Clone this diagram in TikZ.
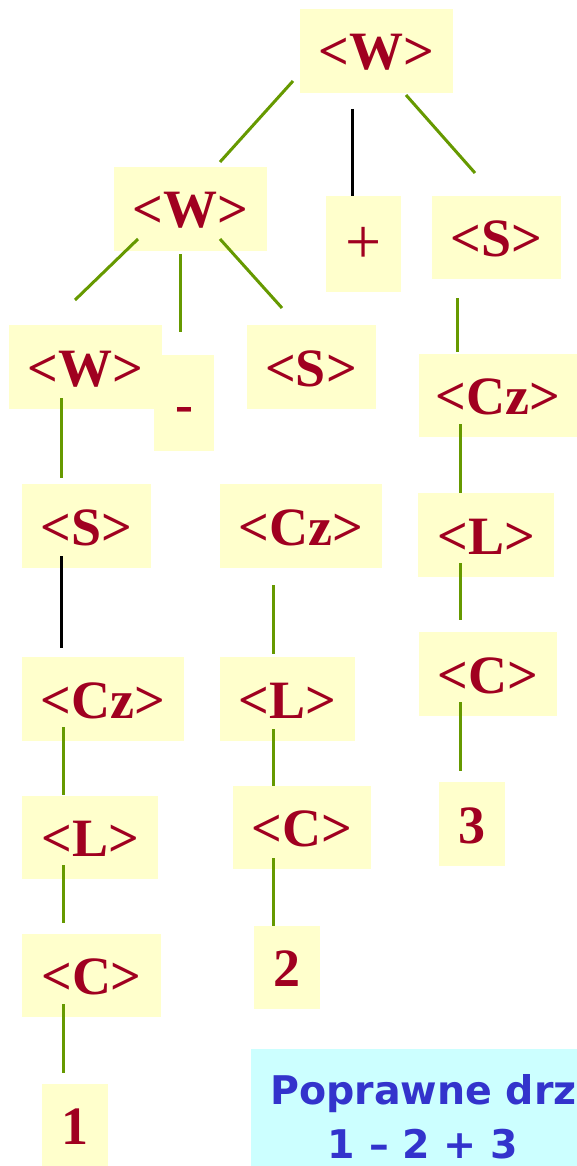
\documentclass[tikz,border=0pt]{standalone}
\usepackage{fontspec}
\setmainfont{Liberation Serif}
\newfontfamily\napisfont{DejaVu Sans}
\usepackage{xcolor}
\usetikzlibrary{positioning}

\definecolor{tlo}{RGB}{255,255,204}
\definecolor{czerw}{RGB}{160,0,32}
\definecolor{ziel}{RGB}{102,153,0}
\definecolor{tlonapis}{RGB}{204,255,255}
\definecolor{nieb}{RGB}{51,51,204}

\begin{document}
\begin{tikzpicture}[x=1pt,y=-1pt,
	wezel/.style={fill=tlo,text=czerw,inner sep=0pt,text height=38pt,text depth=0pt,
		font=\fontsize{54}{58}\selectfont\bfseries},
	galaz/.style={draw=ziel,line width=3pt},
	czarna/.style={draw=black,line width=3pt}]
	\useasboundingbox (0,0) rectangle (577,1166);
	
	% Węzły drzewa
	\node[wezel,minimum width=153pt,minimum height=84pt] (w0) at (376.5,51) {<W>};
	\node[wezel,minimum width=153pt,minimum height=84pt] (w1) at (190.5,209) {<W>};
	\node[wezel,minimum width=75pt,minimum height=96pt,font=\fontsize{64}{68}\selectfont] (plus) at (363.5,244) {+};
	\node[wezel,minimum width=129pt,minimum height=83pt] (s0) at (496.5,237.5) {<S>};
	\node[wezel,minimum width=60pt,minimum height=96pt] (minus) at (184,403) {-};
	\node[wezel,minimum width=153pt,minimum height=84pt] (w2) at (85,367) {<W>};
	\node[wezel,minimum width=129pt,minimum height=84pt] (s1) at (311,367) {<S>};
	\node[wezel,minimum width=158pt,minimum height=83pt] (cz0) at (498,395.5) {<Cz>};
	\node[wezel,minimum width=129pt,minimum height=84pt] (s2) at (86.5,526) {<S>};
	\node[wezel,minimum width=162pt,minimum height=84pt] (cz1) at (301,526) {<Cz>};
	\node[wezel,minimum width=136pt,minimum height=84pt] (l0) at (486,535) {<L>};
	\node[wezel,minimum width=162pt,minimum height=84pt] (cz2) at (103,699) {<Cz>};
	\node[wezel,minimum width=135pt,minimum height=84pt] (l1) at (287.5,699) {<L>};
	\node[wezel,minimum width=138pt,minimum height=84pt] (c0) at (488,674) {<C>};
	\node[wezel,minimum width=136pt,minimum height=83pt] (l2) at (90,837.5) {<L>};
	\node[wezel,minimum width=138pt,minimum height=83pt] (c1) at (302,827.5) {<C>};
	\node[wezel,minimum width=66pt,minimum height=84pt] (n3) at (472,824) {3};
	\node[wezel,minimum width=139pt,minimum height=83pt] (c2) at (91.5,975.5) {<C>};
	\node[wezel,minimum width=66pt,minimum height=83pt] (n2) at (287,967.5) {2};
	\node[wezel,minimum width=66pt,minimum height=82pt] (n1) at (75,1125) {1};
	
	% Punkty zaczepienia gałęzi
	\coordinate (w0-1) at (293,81);    \coordinate (w1-g) at (220,162);
	\coordinate (w0-2) at (352,109);   \coordinate (plus-g) at (352,196);
	\coordinate (w0-3) at (406,95);    \coordinate (s0-g) at (475,173);
	\coordinate (w1-1) at (138,239);   \coordinate (w2-g) at (75,300);
	\coordinate (w1-2) at (180,254);   \coordinate (minus-g) at (180,332);
	\coordinate (w1-3) at (220,239);   \coordinate (s1-g) at (282,308);
	\coordinate (s0-d) at (457.5,298); \coordinate (cz0-g) at (457.5,352);
	\coordinate (w2-d) at (61.5,398);  \coordinate (s2-g) at (61.5,478);
	\coordinate (cz0-d) at (460,424);  \coordinate (l0-g) at (460,493);
	\coordinate (s2-d) at (61.5,556);  \coordinate (cz2-g) at (61.5,648);
	\coordinate (cz1-d) at (273,585);  \coordinate (l1-g) at (273,654);
	\coordinate (l0-d) at (460,563);   \coordinate (c0-g) at (460,620);
	\coordinate (cz2-d) at (63,727);   \coordinate (l2-g) at (63,795);
	\coordinate (l1-d) at (273,729);   \coordinate (c1-g) at (273,786);
	\coordinate (c0-d) at (460,702);   \coordinate (n3-g) at (460,771);
	\coordinate (l2-d) at (63,865);    \coordinate (c2-g) at (63,923);
	\coordinate (c1-d) at (273,858);   \coordinate (n2-g) at (273,926);
	\coordinate (c2-d) at (63,1004);   \coordinate (n1-g) at (63,1073);
	
	% Gałęzie
	\draw[galaz] (w0-1) -- (w1-g);
	\draw[czarna] (w0-2) -- (plus-g);
	\draw[galaz] (w0-3) -- (s0-g);
	\draw[galaz] (w1-1) -- (w2-g);
	\draw[galaz] (w1-2) -- (minus-g);
	\draw[galaz] (w1-3) -- (s1-g);
	\draw[galaz] (s0-d) -- (cz0-g);
	\draw[galaz] (w2-d) -- (s2-g);
	\draw[galaz] (cz0-d) -- (l0-g);
	\draw[czarna] (s2-d) -- (cz2-g);
	\draw[galaz] (cz1-d) -- (l1-g);
	\draw[galaz] (l0-d) -- (c0-g);
	\draw[galaz] (cz2-d) -- (l2-g);
	\draw[galaz] (l1-d) -- (c1-g);
	\draw[galaz] (c0-d) -- (n3-g);
	\draw[galaz] (l2-d) -- (c2-g);
	\draw[galaz] (c1-d) -- (n2-g);
	\draw[galaz] (c2-d) -- (n1-g);
	
	% Podpis
	\fill[tlonapis] (251,1049) rectangle (577,1166);
	\node[anchor=base west,text=nieb,inner sep=0pt,font=\napisfont\fontsize{39.5}{44}\selectfont\bfseries] (napis1) at (270,1104) {Poprawne drz};
	\node[anchor=base,text=nieb,inner sep=0pt,font=\napisfont\fontsize{39.5}{44}\selectfont\bfseries] (napis2) at (423,1158) {1 – 2 + 3};
\end{tikzpicture}
\end{document}
